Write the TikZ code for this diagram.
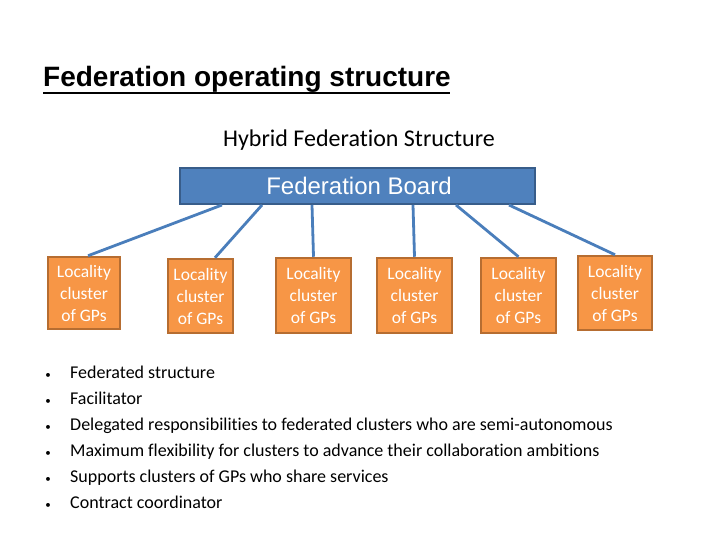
\documentclass[tikz,border=0pt]{standalone}
\usepackage{fontspec}
\setmainfont[RawFeature=-liga]{Carlito}
\newfontfamily\arialfont{Liberation Sans}
\definecolor{boardfill}{HTML}{4F81BD}
\definecolor{boarddraw}{HTML}{385D8A}
\definecolor{linkcol}{HTML}{4A7EBB}
\definecolor{boxfill}{HTML}{F79646}
\definecolor{boxdraw}{HTML}{B66D31}
\begin{document}
\begin{tikzpicture}[x=1pt,y=-1pt,
  cluster/.style={draw=boxdraw,line width=2.5pt,fill=boxfill,text=white,align=center,inner sep=0pt,
    font=\fontsize{17.5}{22}\selectfont},
  link/.style={draw=linkcol,line width=2.8pt},
  bullettext/.style={anchor=base west,inner sep=0pt,font=\fontsize{18}{20}\selectfont},
  bulletdot/.style={anchor=base,inner sep=0pt,font=\fontsize{11}{14}\selectfont}]
\useasboundingbox (0,0) rectangle (720,540);
\node[anchor=base west,inner sep=0pt,font=\arialfont\bfseries\fontsize{28}{32}\selectfont] (title) at (43,87) {Federation operating structure};
\draw[line width=2pt] (43,93) -- (450,93);
\node[anchor=base,inner sep=0pt,font=\fontsize{24}{28}\selectfont] (sub) at (359,147) {Hybrid Federation Structure};
\node[draw=boarddraw,line width=2pt,fill=boardfill,minimum width=355pt,minimum height=36pt,inner sep=0pt] (board) at (357.5,186) {};
\node[anchor=base,inner sep=0pt,text=white,font=\arialfont\fontsize{24}{28}\selectfont] (boardtxt) at (359,195) {Federation Board};
\node[cluster,minimum width=72pt,minimum height=72pt] (c1) at (84,293) {Locality\\cluster\\of GPs};
\node[cluster,minimum width=65pt,minimum height=74pt] (c2) at (200.5,296) {Locality\\cluster\\of GPs};
\node[cluster,minimum width=75pt,minimum height=75pt] (c3) at (313.5,295.5) {Locality\\cluster\\of GPs};
\node[cluster,minimum width=75pt,minimum height=75pt] (c4) at (414.5,295.5) {Locality\\cluster\\of GPs};
\node[cluster,minimum width=75pt,minimum height=75pt] (c5) at (518.5,295.5) {Locality\\cluster\\of GPs};
\node[cluster,minimum width=74pt,minimum height=74pt] (c6) at (615,293) {Locality\\cluster\\of GPs};
\coordinate (b1) at ([xshift=43pt]board.south west);
\coordinate (b2) at ([xshift=83pt]board.south west);
\coordinate (b3) at ([xshift=133pt]board.south west);
\coordinate (b4) at ([xshift=234pt]board.south west);
\coordinate (b5) at ([xshift=277pt]board.south west);
\coordinate (b6) at ([xshift=330pt]board.south west);
\draw[link] (b1) -- ([xshift=4pt]c1.north);
\draw[link] (b2) -- ([xshift=14.5pt]c2.north);
\draw[link] (b3) -- (c3.north);
\draw[link] (b4) -- (c4.north);
\draw[link] (b5) -- (c5.north);
\draw[link] (b6) -- (c6.north);
\foreach \i/\y/\t in {1/378/Federated structure,
  2/404/Facilitator,
  3/430/Delegated responsibilities to federated clusters who are semi-autonomous,
  4/456/Maximum flexibility for clusters to advance their collaboration ambitions,
  5/482/Supports clusters of GPs who share services,
  6/508/Contract coordinator}{
  \node[bulletdot] (d\i) at (48,\y) {•};
  \node[bullettext] (t\i) at (70,\y) {\t};
}
\end{tikzpicture}
\end{document}
